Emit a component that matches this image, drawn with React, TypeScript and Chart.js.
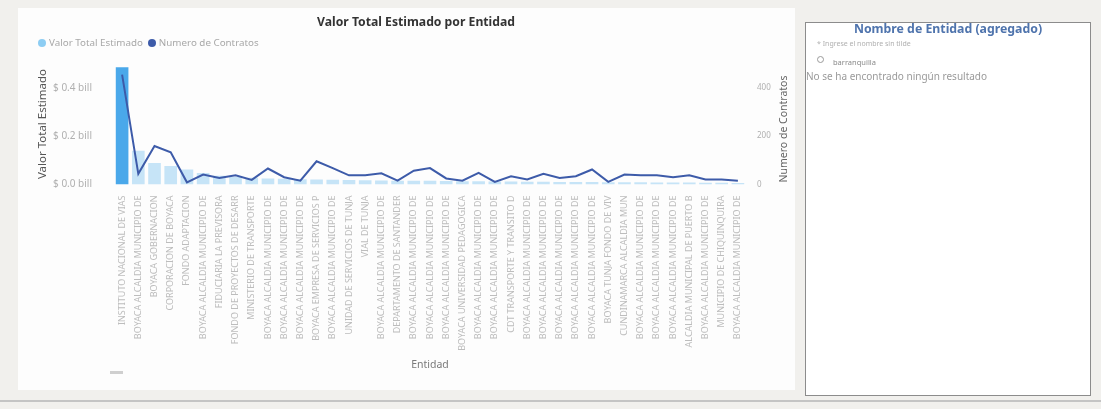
import React, { useEffect, useRef } from "react";
import { Chart, registerables } from "chart.js";

Chart.register(...registerables);

const categories: string[] = [
  "INSTITUTO NACIONAL DE VIAS",
  "BOYACA ALCALDIA MUNICIPIO DE",
  "BOYACA GOBERNACION",
  "CORPORACION DE BOYACA",
  "FONDO ADAPTACION",
  "BOYACA ALCALDIA MUNICIPIO DE",
  "FIDUCIARIA LA PREVISORA",
  "FONDO DE PROYECTOS DE DESARR",
  "MINISTERIO DE TRANSPORTE",
  "BOYACA ALCALDIA MUNICIPIO DE",
  "BOYACA ALCALDIA MUNICIPIO DE",
  "BOYACA ALCALDIA MUNICIPIO DE",
  "BOYACA EMPRESA DE SERVICIOS P",
  "BOYACA ALCALDIA MUNICIPIO DE",
  "UNIDAD DE SERVICIOS DE TUNJA",
  "VIAL DE TUNJA",
  "BOYACA ALCALDIA MUNICIPIO DE",
  "DEPARTAMENTO DE SANTANDER",
  "BOYACA ALCALDIA MUNICIPIO DE",
  "BOYACA ALCALDIA MUNICIPIO DE",
  "BOYACA ALCALDIA MUNICIPIO DE",
  "BOYACA UNIVERSIDAD PEDAGOGICA",
  "BOYACA ALCALDIA MUNICIPIO DE",
  "BOYACA ALCALDIA MUNICIPIO DE",
  "CDT TRANSPORTE Y TRANSITO D",
  "BOYACA ALCALDIA MUNICIPIO DE",
  "BOYACA ALCALDIA MUNICIPIO DE",
  "BOYACA ALCALDIA MUNICIPIO DE",
  "BOYACA ALCALDIA MUNICIPIO DE",
  "BOYACA ALCALDIA MUNICIPIO DE",
  "BOYACA TUNJA FONDO DE VIV",
  "CUNDINAMARCA ALCALDIA MUN",
  "BOYACA ALCALDIA MUNICIPIO DE",
  "BOYACA ALCALDIA MUNICIPIO DE",
  "BOYACA ALCALDIA MUNICIPIO DE",
  "ALCALDIA MUNICIPAL DE PUERTO B",
  "BOYACA ALCALDIA MUNICIPIO DE",
  "MUNICIPIO DE CHIQUINQUIRA",
  "BOYACA ALCALDIA MUNICIPIO DE",
];

// Valor Total Estimado (billones)
const valorTotal: number[] = [
  0.485, 0.139, 0.089, 0.076, 0.062, 0.048, 0.036, 0.031, 0.028, 0.025,
  0.024, 0.022, 0.021, 0.02, 0.019, 0.018, 0.017, 0.016, 0.015, 0.015,
  0.014, 0.013, 0.013, 0.012, 0.012, 0.011, 0.011, 0.01, 0.01, 0.01,
  0.009, 0.009, 0.009, 0.008, 0.008, 0.008, 0.007, 0.007, 0.006,
];

// Numero de Contratos
const numContratos: number[] = [
  454, 44, 159, 133, 9, 41, 27, 38, 19, 66,
  30, 16, 96, 68, 38, 38, 46, 16, 57, 68,
  25, 16, 48, 11, 34, 21, 44, 27, 34, 62,
  11, 41, 38, 38, 30, 38, 21, 21, 16,
];

const leftTickValues: number[] = [0, 0.2, 0.4];
const rightTickValues: number[] = [0, 200, 400];

const BAR_MAIN = "#4aa8ea";
const BAR_LIGHT = "#c6e4f7";
const LINE_COLOR = "#3d5ba9";
const FONT = '"Noto Sans", "Open Sans", sans-serif';

export default function App() {
  const canvasRef = useRef<HTMLCanvasElement | null>(null);

  useEffect(() => {
    document.body.style.margin = "0";
    const canvas = canvasRef.current;
    if (!canvas) return;
    const chart = new Chart(canvas, {
      data: {
        labels: categories,
        datasets: [
          {
            type: "line",
            label: "Numero de Contratos",
            data: numContratos,
            yAxisID: "y1",
            borderColor: LINE_COLOR,
            backgroundColor: LINE_COLOR,
            borderWidth: 2,
            pointRadius: 0,
            tension: 0,
            order: 0,
          },
          {
            type: "bar",
            label: "Valor Total Estimado",
            data: valorTotal,
            yAxisID: "y",
            backgroundColor: valorTotal.map((_, i) => (i === 0 ? BAR_MAIN : BAR_LIGHT)),
            barPercentage: 0.78,
            categoryPercentage: 1,
            order: 1,
          },
        ],
      },
      options: {
        responsive: false,
        animation: false,
        layout: { padding: { top: 55.5, left: 0, right: 0, bottom: 0 } },
        plugins: {
          legend: { display: false },
          title: { display: false },
          tooltip: { enabled: false },
        },
        scales: {
          x: {
            type: "category",
            grid: { display: false },
            border: { display: false },
            ticks: {
              autoSkip: false,
              maxRotation: 90,
              minRotation: 90,
              padding: 3,
              color: "#bdbdbd",
              font: { family: FONT, size: 9 },
            },
            title: {
              display: true,
              text: "Entidad",
              color: "#7a7a7a",
              font: { family: FONT, size: 10.5 },
              padding: { top: 0, bottom: 17 },
            },
            afterFit: (s: any) => {
              s.height = 203.5;
            },
          },
          y: {
            type: "linear",
            position: "left",
            min: 0,
            max: 0.5,
            grid: { display: false },
            border: { display: false },
            afterBuildTicks: (s: any) => {
              s.ticks = leftTickValues.map((v) => ({ value: v }));
            },
            ticks: {
              padding: 14,
              color: "#b0b0b0",
              font: { family: FONT, size: 10 },
              callback: (v: any) => `$ ${Number(v).toFixed(1)} bill`,
            },
            title: {
              display: true,
              text: "Valor Total Estimado",
              color: "#555555",
              font: { family: FONT, size: 11.5 },
              padding: { top: 18, bottom: 0 },
            },
            afterFit: (s: any) => {
              s.width = 96;
            },
          },
          y1: {
            type: "linear",
            position: "right",
            min: 0,
            max: 500,
            grid: { display: false },
            border: { display: false },
            afterBuildTicks: (s: any) => {
              s.ticks = rightTickValues.map((v) => ({ value: v }));
            },
            ticks: {
              padding: 3,
              color: "#b0b0b0",
              font: { family: FONT, size: 8 },
            },
            afterFit: (s: any) => {
              s.width = 49;
            },
          },
        },
      },
    } as any);
    return () => chart.destroy();
  }, []);

  return (
    <div
      style={{
        position: "relative",
        width: 1101,
        height: 409,
        background: "#f1f0ed",
        overflow: "hidden",
        fontFamily: FONT,
      }}
    >
      {/* left visual */}
      <div
        style={{
          position: "absolute",
          left: 18,
          top: 8,
          width: 777,
          height: 382,
          background: "#fdfdfd",
        }}
      >
        <canvas
          ref={canvasRef}
          width={777}
          height={380}
          style={{ position: "absolute", left: 0, top: 0, width: 777, height: 380 }}
        />
        <div
          style={{
            position: "absolute",
            left: 398,
            top: 6,
            transform: "translateX(-50%)",
            whiteSpace: "nowrap",
            fontSize: 12.2,
            fontWeight: 700,
            color: "#333333",
            lineHeight: "16px",
          }}
        >
          Valor Total Estimado por Entidad
        </div>
        <div
          style={{
            position: "absolute",
            left: 20,
            top: 29,
            display: "flex",
            alignItems: "center",
            whiteSpace: "nowrap",
            fontSize: 9.8,
            color: "#a8a8a8",
            lineHeight: "12px",
          }}
        >
          <span
            style={{
              display: "inline-block",
              width: 8,
              height: 8,
              borderRadius: "50%",
              background: "#8dcdf3",
              marginRight: 3,
            }}
          />
          <span style={{ marginRight: 5 }}>Valor Total Estimado</span>
          <span
            style={{
              display: "inline-block",
              width: 8,
              height: 8,
              borderRadius: "50%",
              background: LINE_COLOR,
              marginRight: 3,
            }}
          />
          <span>Numero de Contratos</span>
        </div>
        <div
          style={{
            position: "absolute",
            left: 765,
            top: 121,
            transform: "translate(-50%, -50%) rotate(-90deg)",
            whiteSpace: "nowrap",
            fontSize: 10.5,
            color: "#666666",
            lineHeight: "12px",
          }}
        >
          Numero de Contratos
        </div>
        <div
          style={{
            position: "absolute",
            left: 92,
            top: 363,
            width: 13,
            height: 3,
            background: "#cfcfcf",
          }}
        />
      </div>

      {/* right slicer panel */}
      <div
        style={{
          position: "absolute",
          left: 805,
          top: 22,
          width: 284,
          height: 372,
          background: "#ffffff",
          border: "1px solid #8c8c8c",
        }}
      >
        <div
          style={{
            position: "absolute",
            left: 0,
            top: -2,
            width: 284,
            textAlign: "center",
            fontSize: 12.3,
            fontWeight: 700,
            color: "#4f74ad",
            lineHeight: "16px",
            whiteSpace: "nowrap",
          }}
        >
          Nombre de Entidad (agregado)
        </div>
        <div
          style={{
            position: "absolute",
            left: 11,
            top: 16,
            fontSize: 7,
            color: "#b0b0b0",
            lineHeight: "10px",
            whiteSpace: "nowrap",
          }}
        >
          * Ingrese el nombre sin tilde
        </div>
        <div
          style={{
            position: "absolute",
            left: 11,
            top: 33,
            width: 5,
            height: 5,
            borderRadius: "50%",
            border: "1px solid #9a9a9a",
          }}
        />
        <div
          style={{
            position: "absolute",
            left: 27,
            top: 34,
            fontSize: 7.5,
            color: "#8a8a8a",
            lineHeight: "11px",
            whiteSpace: "nowrap",
          }}
        >
          barranquilla
        </div>
        <div
          style={{
            position: "absolute",
            left: 0,
            top: 48,
            fontSize: 10,
            color: "#9a9a9a",
            lineHeight: "11px",
            whiteSpace: "nowrap",
          }}
        >
          No se ha encontrado ningún resultado
        </div>
      </div>

      <div
        style={{
          position: "absolute",
          left: 0,
          top: 400,
          width: 1101,
          height: 2,
          background: "#c4c4c4",
        }}
      />
    </div>
  );
}
